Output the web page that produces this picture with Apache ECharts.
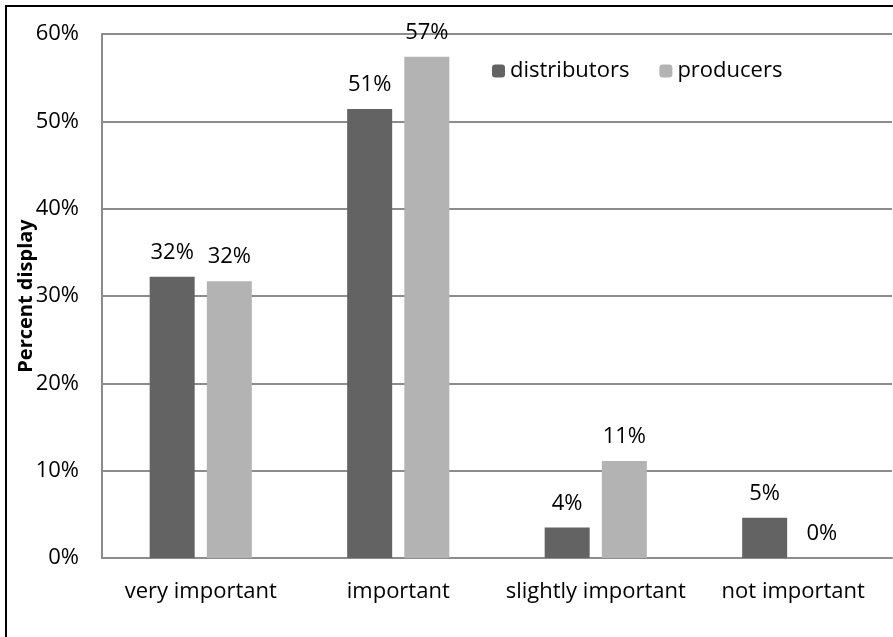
<!DOCTYPE html>
<html>
<head>
<meta charset="utf-8">
<script src="https://cdn.jsdelivr.net/npm/echarts@6/dist/echarts.min.js"></script>
<style>
html, body { margin: 0; padding: 0; background: #fff; }
#main { position: absolute; left: 5px; top: 5px; width: 888px; height: 632px;
        border-left: 2px solid #000; border-top: 2px solid #000; box-sizing: border-box; }
</style>
</head>
<body>
<div id="main"></div>
<script>
var categories = ['very important', 'important', 'slightly important', 'not important'];
var distributors = [32.2, 51.4, 3.5, 4.6];
var producers = [31.7, 57.4, 11.1, 0];
var yTicks = [0, 10, 20, 30, 40, 50, 60];

var font = 'Open Sans';
var fs = 22;
var myChart = echarts.init(document.getElementById('main'));
var option = {
    backgroundColor: '#fff',
    animation: false,
    textStyle: {fontFamily: font},
    legend: {
        left: 480,
        top: 48,
        itemWidth: 13,
        itemHeight: 13,
        itemGap: 30,
        textStyle: {fontSize: fs, color: '#000', fontFamily: font},
        data: ['distributors', 'producers']
    },
    grid: {left: 95, right: 1, top: 27, bottom: 79, outerBoundsMode: 'none', containLabel: false},
    xAxis: {
        type: 'category',
        data: categories,
        axisLine: {lineStyle: {color: '#8c8c8c', width: 2}},
        axisTick: {show: false},
        axisLabel: {fontSize: fs, color: '#000', margin: 23, interval: 0, fontFamily: font}
    },
    yAxis: {
        type: 'value',
        min: yTicks[0],
        max: yTicks[yTicks.length - 1],
        interval: 10,
        name: 'Percent display',
        nameLocation: 'middle',
        nameGap: 66,
        nameMoveOverlap: false,
        nameTextStyle: {fontSize: 20, fontWeight: 'bold', color: '#000', fontFamily: font},
        axisLine: {show: true, lineStyle: {color: '#8c8c8c', width: 2}},
        axisTick: {show: false},
        splitLine: {lineStyle: {color: '#8c8c8c', width: 2}},
        axisLabel: {fontSize: fs, color: '#000', margin: 23, formatter: '{value}%', fontFamily: font}
    },
    series: [
        {
            name: 'distributors',
            type: 'bar',
            data: distributors,
            barWidth: 45,
            barGap: '27%',
            itemStyle: {color: '#636363'},
            label: {
                show: true, position: 'top', distance: 13, fontSize: fs, color: '#000', fontFamily: font,
                formatter: function (p) { return Math.round(p.value) + '%'; }
            }
        },
        {
            name: 'producers',
            type: 'bar',
            data: producers,
            barWidth: 45,
            itemStyle: {color: '#b3b3b3'},
            label: {
                show: true, position: 'top', distance: 13, fontSize: fs, color: '#000', fontFamily: font,
                formatter: function (p) { return Math.round(p.value) + '%'; }
            }
        }
    ]
};
myChart.setOption(option);
window.onresize = myChart.resize;
</script>
</body>
</html>
